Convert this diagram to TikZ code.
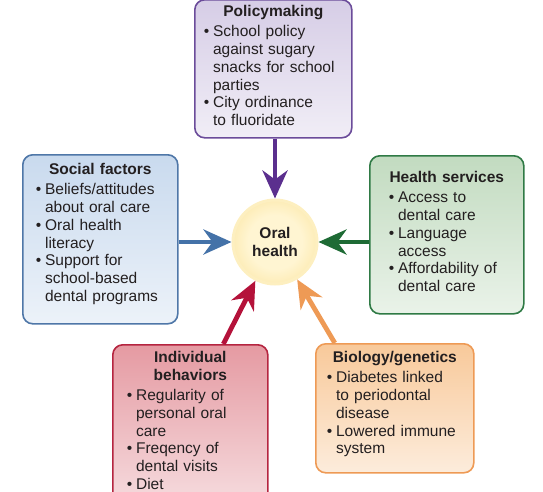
\documentclass[tikz,border=0pt]{standalone}
\usepackage{fontspec}
\setmainfont{Liberation Sans}
\usepackage{xcolor}
\usetikzlibrary{
  arrows.meta,
  positioning,
  calc,
}
\definecolor{ink}{HTML}{231F20}
\definecolor{policyink}{HTML}{6B4C9A}
\definecolor{policywash}{HTML}{D6CDE6}
\definecolor{policyarrow}{HTML}{5B2F8E}
\definecolor{socialink}{HTML}{4F77A8}
\definecolor{socialwash}{HTML}{C9DAEE}
\definecolor{socialarrow}{HTML}{4472A8}
\definecolor{serviceink}{HTML}{2F7A45}
\definecolor{servicewash}{HTML}{C2DBC0}
\definecolor{servicearrow}{HTML}{1E6B35}
\definecolor{behaviorink}{HTML}{B52540}
\definecolor{behaviorwash}{HTML}{E59AA2}
\definecolor{behaviorarrow}{HTML}{B4123A}
\definecolor{biologyink}{HTML}{EE9A55}
\definecolor{biologywash}{HTML}{F8C99A}
\definecolor{biologyarrow}{HTML}{EE9A55}
\definecolor{hubcore}{HTML}{FFF5D2}
\definecolor{hubbody}{HTML}{F9DC85}
\definecolor{hubrim}{HTML}{FDEFC0}
\pgfdeclareradialshading{hubglow}{\pgfpoint{0bp}{0bp}}{%
  color(0bp)=(hubcore); color(16bp)=(hubcore); color(42bp)=(hubbody); color(50bp)=(hubbody)}
\newcommand{\ftitle}[1]{{\centering\bfseries #1\par}\vspace{2pt}}
\newcommand{\bitem}[1]{\par\hangindent=0.6em\hangafter=1\noindent\makebox[0.6em][l]{\textbullet}#1\par}
\newcommand{\nl}{\break}
\tikzset{
  factor/.style 2 args={
    draw=#1,
    line width=1.6pt,
    rounded corners=10pt,
    top color=#2,
    bottom color=#2!35!white,
    inner sep=0pt,
  },
  factortext/.style={
    font=\fontsize{15.5}{17.8}\selectfont,
    text=ink,
    inner sep=0pt,
    execute at begin node={\parindent=0pt\raggedright},
  },
  hub/.style={
    circle,
    minimum size=84pt,
    shading=hubglow,
    draw=hubrim,
    line width=3pt,
    font=\fontsize{15.5}{17.8}\selectfont\bfseries,
    text=ink,
    align=center,
  },
  feed/.style={
    draw=#1,
    line width=4.8pt,
    -{Stealth[length=28pt,width=25pt,inset=9pt]},
  },
}

\begin{document}
\begin{tikzpicture}[x=1pt,y=-1pt]
  \useasboundingbox (0,0) rectangle (543,492);
  \clip (0,0) rectangle (543,492);

  % Oral health
  \node[hub] (oral) at (275,242) {Oral\\health};

  % Policymaking
  \node[factor={policyink}{policywash}, minimum width=157pt, minimum height=138pt, anchor=north west] (policy) at (194,-1) {};
  \node[factortext, text width=139pt, below=6.5pt of policy.north] (policytxt) {%
    \ftitle{Policymaking}
    \bitem{School policy\nl against sugary\nl snacks for school\nl parties}
    \bitem{City ordinance\nl to fluoridate}};

  % Social factors
  \node[factor={socialink}{socialwash}, minimum width=155pt, minimum height=169pt, anchor=north west] (social) at (22,154) {};
  \node[factortext, text width=129pt, below=9.5pt of social.north] (socialtxt) {%
    \ftitle{Social factors}
    \bitem{Beliefs/attitudes\nl about oral care}
    \bitem{Oral health\nl literacy}
    \bitem{Support for\nl school-based\nl dental programs}};

  % Health services
  \node[factor={serviceink}{servicewash}, minimum width=154pt, minimum height=158pt, anchor=north west] (services) at (369,155) {};
  \node[factortext, text width=116pt, below=16.5pt of services.north] (servicestxt) {%
    \ftitle{Health services}
    \bitem{Access to\nl dental care}
    \bitem{Language\nl access}
    \bitem{Affordability of\nl dental care}};

  % Individual behaviors
  \node[factor={behaviorink}{behaviorwash}, minimum width=155pt, minimum height=160pt, anchor=north west] (behavior) at (112,344) {};
  \node[factortext, text width=127pt, below=7.5pt of behavior.north] (behaviortxt) {%
    \ftitle{Individual\\behaviors}
    \bitem{Regularity of\nl personal oral\nl care}
    \bitem{Freqency of\nl dental visits}
    \bitem{Diet}};

  % Biology/genetics
  \node[factor={biologyink}{biologywash}, minimum width=158pt, minimum height=129pt, anchor=north west] (biology) at (315,343) {};
  \node[factortext, text width=136pt, below=8.5pt of biology.north] (biologytxt) {%
    \ftitle{Biology/genetics}
    \bitem{Diabetes linked\nl to periodontal\nl disease}
    \bitem{Lowered immune\nl system}};

  % Influences
  \draw[feed=policyarrow] (oral |- policy.south) -- (oral);
  \draw[feed=socialarrow] (social.east |- oral) -- (oral);
  \draw[feed=servicearrow] (services.west |- oral) -- (oral);
  \draw[feed=behaviorarrow] ([xshift=33pt]behavior.north) -- (oral);
  \draw[feed=biologyarrow] ([xshift=-60pt]biology.north) -- (oral);
\end{tikzpicture}
\end{document}
